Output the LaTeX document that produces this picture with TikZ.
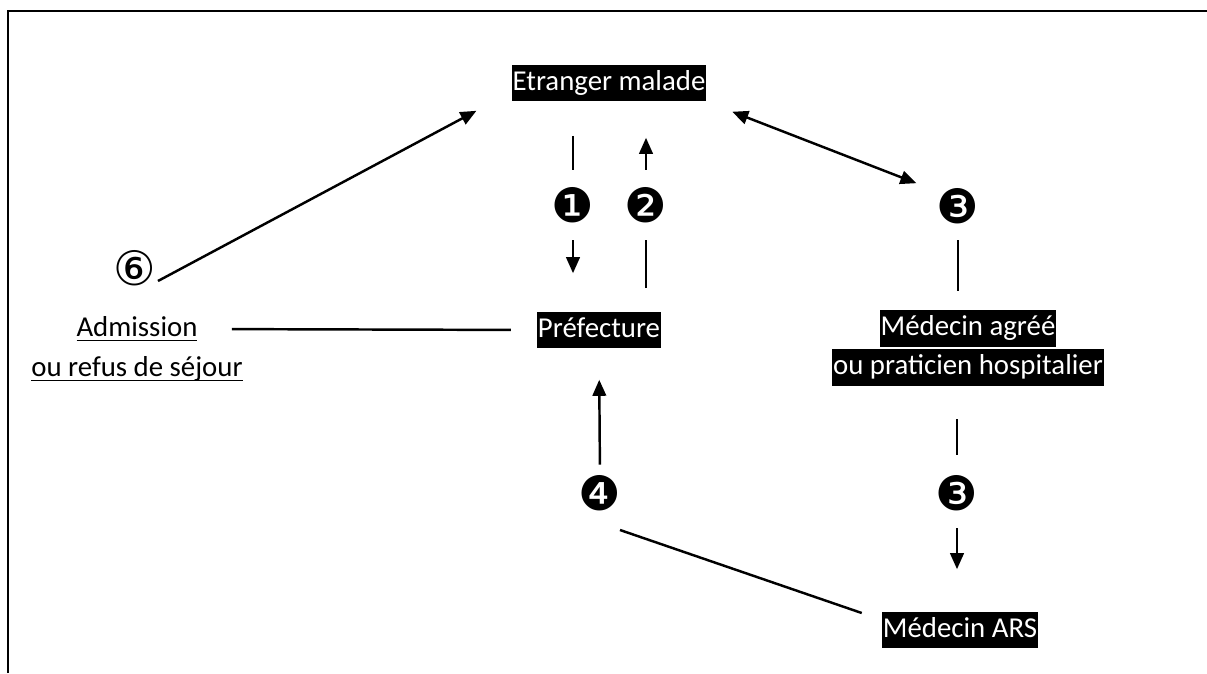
\documentclass[tikz,border=0pt]{standalone}
\usepackage{fontspec}
\setmainfont{Carlito}
\newfontfamily\dingfont{DejaVu Sans}
\usetikzlibrary{arrows.meta,positioning}
\newcommand{\blackhl}[1]{{\setlength{\fboxsep}{0.5pt}\colorbox{black}{\textcolor{white}{\strut #1}}}}
\newcommand{\ulin}[1]{\setbox0\hbox{#1}\rlap{\rule[-2.6pt]{\wd0}{0.8pt}}\box0}
\newcommand{\dnum}[1]{\raisebox{-0.36em}[0pt][0pt]{\makebox[0pt]{#1}}}

\begin{document}
\begin{tikzpicture}[
		x=0.02cm, y=-0.02cm,
		font=\fontsize{16.4}{20}\selectfont,
		lbl/.style={inner sep=0pt},
		num/.style={circle, inner sep=0pt, minimum size=0.6cm, font=\dingfont\fontsize{27}{27}\selectfont},
		ln/.style={line width=1.4pt},
		arr/.style={ln, -{Triangle[length=0.32cm, width=0.27cm]}}
		]
		\useasboundingbox (0,0) rectangle (1207,673);
		\draw[line width=1.6pt] (8,673) -- (8,11) -- (1207,11);
		
		\node[lbl] (etr)  at (609,83)  {\blackhl{Etranger malade}};
		\node[lbl] (pref) at (599,330) {\blackhl{Préfecture}};
		\node[lbl, align=center] (med) at (968,348) {\blackhl{Médecin agréé}\\\blackhl{ou praticien hospitalier}};
		\node[lbl] (ars)  at (960,630) {\blackhl{Médecin ARS}};
		\node[lbl] (adm)  at (137,329) {\ulin{Admission}};
		\node[lbl] (sej)  at (137,369) {\ulin{ou refus de séjour}};
		
		\node[num] (n1)  at (573,205) {\dnum{❶}};
		\node[num] (n2)  at (646,205) {\dnum{❷}};
		\node[num] (n3a) at (958,206) {\dnum{❸}};
		\node[num] (n3b) at (957,493) {\dnum{❸}};
		\node[num] (n4)  at (600,493) {\dnum{❹}};
		\node[num] (n6)  at (135,268) {\dnum{⑥}};
		
		\draw[ln,  shorten <=0.68cm, shorten >=0.4cm]  (n1 |- etr.south) -- (n1.north);
		\draw[arr, shorten <=0.4cm,  shorten >=0.76cm] (n1.south) -- (n1 |- pref.north);
		\draw[arr, shorten <=0.4cm,  shorten >=0.72cm] (n2.north) -- (n2 |- etr.south);
		\draw[ln,  shorten <=0.46cm, shorten >=0.4cm]  (n2 |- pref.north) -- (n2.south);
		\draw[ln, {Triangle[length=0.32cm, width=0.27cm]}-{Triangle[length=0.32cm, width=0.27cm]},
		shorten <=0.55cm, shorten >=0.66cm] (etr.south east) -- (n3a.north west);
		\draw[ln,  shorten <=0.38cm, shorten >=0.38cm] (n3a.south) -- (n3a |- med.north);
		\draw[ln,  shorten <=0.66cm, shorten >=0.46cm] (n3b |- med.south) -- (n3b.north);
		\draw[arr, shorten <=0.4cm,  shorten >=0.84cm] (n3b.south) -- (n3b |- ars.north);
		\draw[ln] ([shift={(0.4cm,-0.74cm)}]n4.center) -- ([shift={(-0.4cm,0.34cm)}]ars.west);
		\draw[arr, shorten <=0.26cm, shorten >=0.62cm] (n4.north) -- (pref.south);
		\draw[ln,  shorten <=0.52cm, shorten >=0.68cm] (pref.west) -- (adm.east);
		\draw[arr] ([shift={(0.46cm,-0.26cm)}]n6.center) -- ([shift={(-0.7cm,-0.18cm)}]etr.south west);
	\end{tikzpicture}
\end{document}
